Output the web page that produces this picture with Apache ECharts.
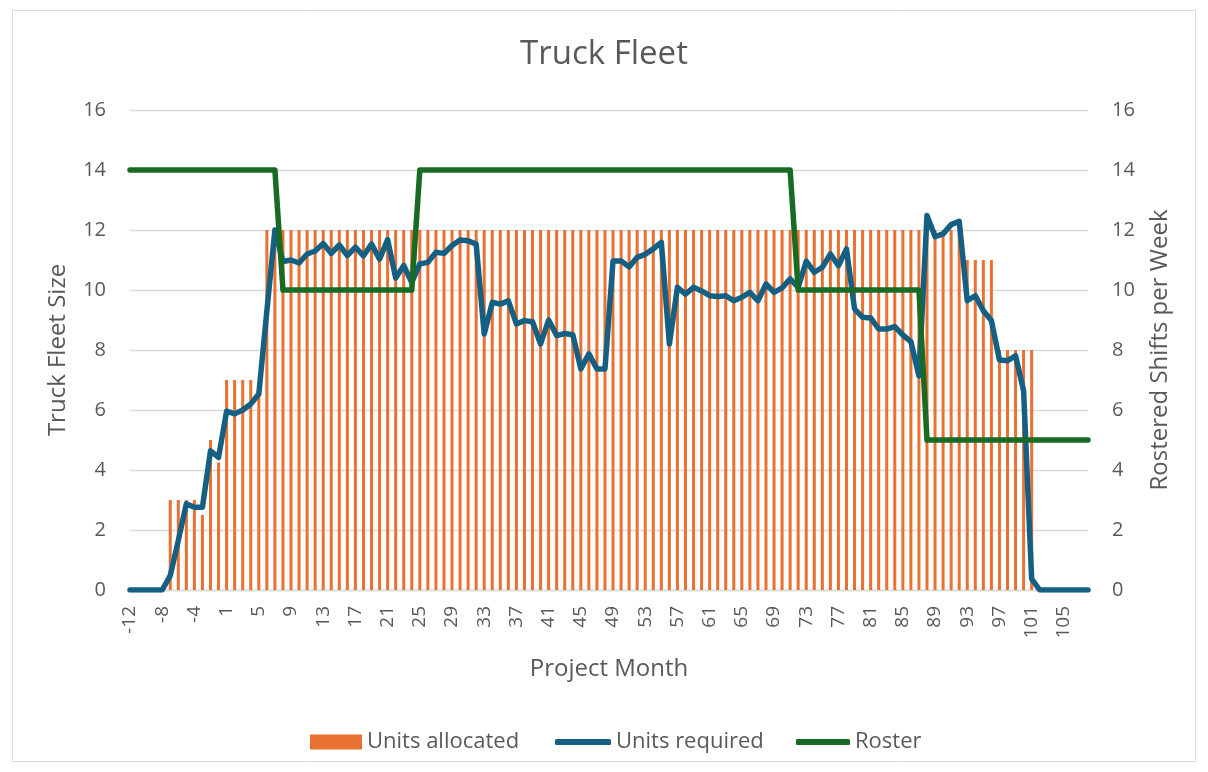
<!DOCTYPE html>
<html>
<head>
<meta charset="utf-8">
<script src="https://cdn.jsdelivr.net/npm/echarts@6/dist/echarts.min.js"></script>
<style>
html,body{margin:0;padding:0;background:#fff;}
#chart{width:1208px;height:772px;}
</style>
</head>
<body>
<div id="chart"></div>
<script>
// Project months (no month 0)
var months = [-12,-11,-10,-9,-8,-7,-6,-5,-4,-3,-2,-1,
  1,2,3,4,5,6,7,8,9,10,11,12,13,14,15,16,17,18,19,20,
  21,22,23,24,25,26,27,28,29,30,31,32,33,34,35,36,37,38,39,40,
  41,42,43,44,45,46,47,48,49,50,51,52,53,54,55,56,57,58,59,60,
  61,62,63,64,65,66,67,68,69,70,71,72,73,74,75,76,77,78,79,80,
  81,82,83,84,85,86,87,88,89,90,91,92,93,94,95,96,97,98,99,100,
  101,102,103,104,105,106,107,108];

var unitsAllocated = [0,0,0,0,0,3,3,3,3,2.5,5,4.25,
  7,7,7,7,6.5,12,12,12,12,12,12,12,12,12,12,12,12,12,12,12,
  12,12,12,12,12,12,12,12,12,12,12,12,12,12,12,12,12,12,12,12,
  12,12,12,12,12,12,12,12,12,12,12,12,12,12,12,12,12,12,12,12,
  12,12,12,12,12,12,12,12,12,12,12,12,12,12,12,12,12,12,12,12,
  12,12,12,12,12,12,12,12,12,12,12,12,11,11,11,11,8,8,8,8,
  8,0,0,0,0,0,0,0];

var unitsRequired = [0,0,0,0,0,0.48,1.65,2.87,2.76,2.76,4.64,4.42,
  5.96,5.87,6.0,6.2,6.53,9.3,12.0,10.95,11.0,10.9,11.2,11.3,11.55,11.22,11.5,11.15,11.43,11.14,11.53,11.03,
  11.68,10.4,10.82,10.25,10.87,10.92,11.26,11.22,11.48,11.67,11.64,11.53,8.53,9.59,9.53,9.64,8.87,8.98,8.94,8.2,
  9.0,8.48,8.55,8.51,7.37,7.87,7.37,7.37,10.97,10.97,10.77,11.09,11.19,11.37,11.59,8.2,10.09,9.86,10.09,9.97,
  9.81,9.78,9.81,9.64,9.76,9.92,9.64,10.2,9.92,10.07,10.37,10.09,10.96,10.59,10.76,11.2,10.81,11.37,9.37,9.09,
  9.07,8.7,8.7,8.78,8.5,8.28,7.14,12.48,11.78,11.87,12.18,12.29,9.64,9.81,9.31,8.98,7.67,7.64,7.81,6.64,
  0.37,0,0,0,0,0,0,0];

var roster = [14,14,14,14,14,14,14,14,14,14,14,14,
  14,14,14,14,14,14,14,10,10,10,10,10,10,10,10,10,10,10,10,10,
  10,10,10,10,14,14,14,14,14,14,14,14,14,14,14,14,14,14,14,14,
  14,14,14,14,14,14,14,14,14,14,14,14,14,14,14,14,14,14,14,14,
  14,14,14,14,14,14,14,14,14,14,14,10,10,10,10,10,10,10,10,10,
  10,10,10,10,10,10,10,5,5,5,5,5,5,5,5,5,5,5,5,5,
  5,5,5,5,5,5,5,5];

var yTicks = [0,2,4,6,8,10,12,14,16];

var FONT = 'Open Sans';
var GREY = '#595959';
var chart = echarts.init(document.getElementById('chart'));
chart.setOption({
  animation: false,
  backgroundColor: '#fff',
  textStyle: {fontFamily: FONT},
  graphic: [{
    type: 'rect', shape: {x: 12.5, y: 10.5, width: 1183, height: 751},
    style: {fill: 'none', stroke: '#d9d9d9', lineWidth: 1}, silent: true, z: -10
  }],
  title: {
    text: 'Truck Fleet', left: 'center', top: 33,
    textStyle: {fontFamily: FONT, fontSize: 33, fontWeight: 'normal', color: GREY}
  },
  grid: {left: 130, right: 120, top: 110, bottom: 182},
  legend: [
    {data: [{name: 'Units allocated', icon: 'rect'}], left: 305, top: 726, itemWidth: 52, itemHeight: 15,
     textStyle: {fontFamily: FONT, fontSize: 22, color: GREY}},
    {data: [{name: 'Units required', icon: 'roundRect'}], left: 550, top: 726, itemWidth: 56, itemHeight: 6,
     textStyle: {fontFamily: FONT, fontSize: 22, color: GREY}},
    {data: [{name: 'Roster', icon: 'roundRect'}], left: 791, top: 726, itemWidth: 54, itemHeight: 6,
     textStyle: {fontFamily: FONT, fontSize: 22, color: GREY}}
  ],
  xAxis: {
    type: 'category', data: months, boundaryGap: false,
    name: 'Project Month', nameLocation: 'middle', nameGap: 67,
    nameTextStyle: {fontFamily: FONT, fontSize: 24, color: GREY},
    axisLine: {lineStyle: {color: '#d9d9d9', width: 1.3}},
    axisTick: {show: false},
    axisLabel: {interval: 3, rotate: 90, fontSize: 19, color: GREY, margin: 16, fontFamily: FONT}
  },
  yAxis: [
    {type: 'value', min: yTicks[0], max: yTicks[yTicks.length - 1], interval: 2,
     name: 'Truck Fleet Size', nameLocation: 'middle', nameRotate: 90, nameGap: 60,
     nameTextStyle: {fontFamily: FONT, fontSize: 24, color: GREY},
     axisLabel: {fontSize: 20, color: GREY, margin: 24, fontFamily: FONT},
     axisLine: {show: false}, axisTick: {show: false},
     splitLine: {lineStyle: {color: '#d9d9d9', width: 1.3}}},
    {type: 'value', min: yTicks[0], max: yTicks[yTicks.length - 1], interval: 2, position: 'right',
     name: 'Rostered Shifts per Week', nameLocation: 'middle', nameRotate: 90, nameGap: 60,
     nameTextStyle: {fontFamily: FONT, fontSize: 24, color: GREY},
     axisLabel: {fontSize: 20, color: GREY, margin: 24, fontFamily: FONT},
     axisLine: {show: false}, axisTick: {show: false}, splitLine: {show: false}}
  ],
  series: [
    {name: 'Units allocated', type: 'bar', data: unitsAllocated, barWidth: 3,
     itemStyle: {color: '#E97132'}, z: 1},
    {name: 'Units required', type: 'line', data: unitsRequired, symbol: 'none',
     lineStyle: {color: '#156082', width: 5.5, cap: 'round', join: 'round'},
     itemStyle: {color: '#156082'}, z: 3},
    {name: 'Roster', type: 'line', data: roster, yAxisIndex: 1, symbol: 'none',
     lineStyle: {color: '#196B24', width: 5.5, cap: 'round', join: 'round'},
     itemStyle: {color: '#196B24'}, z: 4}
  ]
});
</script>
</body>
</html>
